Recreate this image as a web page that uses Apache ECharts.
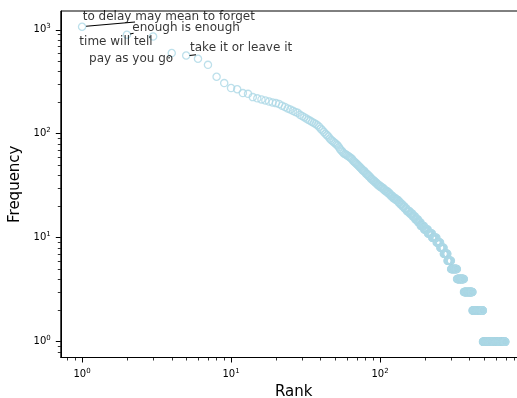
<!DOCTYPE html>
<html>
<head>
<meta charset="utf-8">
<script src="https://cdn.jsdelivr.net/npm/echarts@6/dist/echarts.min.js"></script>
<style>
  html, body { margin: 0; padding: 0; background: #fff; }
  #chart { width: 517px; height: 398px; }
</style>
</head>
<body>
<div id="chart"></div>
<script>
// frequency of the top ranked phrases, rank 1..90
const topFreq = [
  1069, 895, 862, 597, 566, 526, 460, 353, 307, 275,
  268, 246, 242, 225, 219, 214, 209, 204, 200, 197,
  193, 186, 181, 175, 171, 166, 162, 159, 152, 148,
  144, 140, 136, 133, 130, 127, 124, 121, 117, 112,
  108, 104, 100, 97, 94, 90, 87, 85, 83, 81,
  79, 77, 74, 71, 69, 67, 65, 64, 63, 62,
  61, 60, 59, 58, 57, 55, 54, 53, 52, 51,
  50, 49, 48, 47, 46, 45, 44, 44, 43, 42,
  41, 41, 40, 39, 39, 38, 37, 37, 36, 36
]
// the rest: how many phrases share each (small) frequency
const tailFreq = [35, 34, 33, 32, 31, 30, 29, 28, 27, 26, 25, 24, 23, 22, 21, 20, 19, 18,
  17, 16, 15, 14, 13, 12, 11, 10, 9, 8, 7, 6, 5, 4, 3, 2, 1]
const tailCount = [2, 2, 2, 3, 3, 3, 3, 4, 3, 3, 4, 5, 5, 4, 5, 5, 5, 7,
  7, 7, 8, 7, 10, 12, 14, 16, 14, 14, 16, 16, 29, 37, 52, 73, 203]

const majorTicks = [1, 10, 100, 1000]
const minorTicks = [0.8, 0.9, 2, 3, 4, 5, 6, 7, 8, 9, 20, 30, 40, 50, 60, 70, 80, 90,
  200, 300, 400, 500, 600, 700, 800, 900]

// annotations: text anchor (left / middle) and connector line, in data units
const noteText = ['to delay may mean to forget', 'enough is enough', 'time will tell', 'pay as you go', 'take it or leave it']
const noteRank = [1.011, 2.176, 0.959, 1.114, 5.307]
const noteFreq = [1319, 1045, 766, 520, 664]
const lineFrom = [[1.064, 1081], [2.10, 909], [2.817, 847], [3.807, 532], [5.267, 566]]
const lineTo = [[2.268, 1186], [2.216, 926], [2.883, 857], [3.866, 543], [5.82, 575]]

const FONT = 'DejaVu Sans'

// rank each phrase
const points = []
topFreq.forEach((f, i) => points.push([i + 1, f]))
tailFreq.forEach((f, i) => {
  for (let k = 0; k < tailCount[i]; k++) points.push([points.length + 1, f])
})

const powLabel = v => '{b|10}{s|' + Math.round(Math.log10(v)) + '}'
const labelRich = {
  b: { fontSize: 10, fontFamily: FONT, color: '#000', lineHeight: 14 },
  s: { fontSize: 7, fontFamily: FONT, color: '#000', verticalAlign: 'top', lineHeight: 7 }
}

const xMin = 0.72, xMax = 962
const yMin = 0.705, yMax = 1515

const mainAxis = (min, max, extra) => Object.assign({
  type: 'log',
  logBase: 10,
  min: min,
  max: max,
  axisLine: { show: true, lineStyle: { color: '#000', width: 1 } },
  axisTick: { show: true, length: 5, lineStyle: { color: '#000', width: 1 }, customValues: majorTicks.filter(v => v >= min && v <= max) },
  axisLabel: { show: true, margin: 10, formatter: powLabel, rich: labelRich, customValues: majorTicks.filter(v => v >= min && v <= max) },
  splitLine: { show: false },
  minorTick: { show: false }
}, extra)

const minorAxis = (min, max, extra) => Object.assign({
  type: 'log',
  logBase: 10,
  min: min,
  max: max,
  axisLine: { show: false },
  axisTick: { show: true, length: 3, lineStyle: { color: '#000', width: 0.8 }, customValues: minorTicks.filter(v => v >= min && v <= max) },
  axisLabel: { show: false },
  splitLine: { show: false }
}, extra)

const chart = echarts.init(document.getElementById('chart'), null, { renderer: 'canvas' })

const series = [{
  type: 'scatter',
  xAxisIndex: 0,
  yAxisIndex: 0,
  data: points,
  symbol: 'circle',
  symbolSize: 7.2,
  itemStyle: { color: 'rgba(0,0,0,0)', borderColor: '#add8e6', borderWidth: 1.3 },
  emphasis: { disabled: true },
  silent: true
}]

noteText.forEach((t, i) => {
  series.push({
    type: 'line',
    xAxisIndex: 0,
    yAxisIndex: 0,
    data: [lineFrom[i], lineTo[i]],
    showSymbol: false,
    symbol: 'none',
    lineStyle: { color: '#000', width: 1.1 },
    silent: true
  })
})

series.push({
  type: 'scatter',
  xAxisIndex: 0,
  yAxisIndex: 0,
  symbolSize: 0,
  data: noteText.map((t, i) => ({ name: t, value: [noteRank[i], noteFreq[i]] })),
  label: {
    show: true,
    position: [0, 0],
    align: 'left',
    verticalAlign: 'middle',
    formatter: p => p.name,
    fontFamily: FONT,
    fontSize: 12,
    color: '#000',
    textBorderWidth: 0
  },
  silent: true
})

chart.setOption({
  animation: false,
  backgroundColor: '#fff',
  grid: {
    left: 60.8, top: 11, width: 465.7, height: 346.5,
    outerBoundsMode: 'none', containLabel: false,
    show: true, borderColor: '#000', borderWidth: 1
  },
  xAxis: [
    mainAxis(xMin, xMax, {
      position: 'bottom',
      name: 'Rank',
      nameLocation: 'middle',
      nameGap: 24,
      nameTextStyle: { fontFamily: FONT, fontSize: 15, color: '#000' }
    }),
    minorAxis(xMin, xMax, { position: 'bottom' })
  ],
  yAxis: [
    mainAxis(yMin, yMax, {
      position: 'left',
      name: 'Frequency',
      nameLocation: 'middle',
      nameRotate: 90,
      nameGap: 32,
      nameTextStyle: { fontFamily: FONT, fontSize: 15, color: '#000' }
    }),
    minorAxis(yMin, yMax, { position: 'left' })
  ],
  series: series
})
</script>
</body>
</html>
